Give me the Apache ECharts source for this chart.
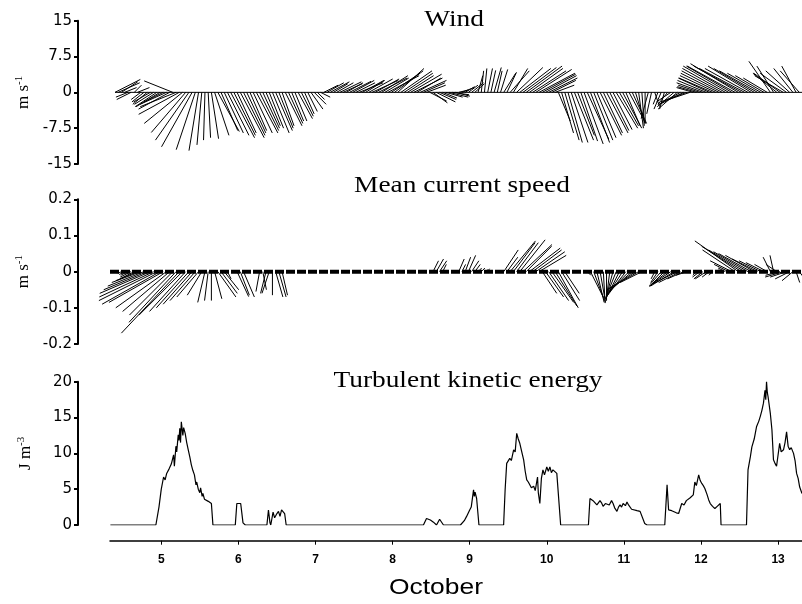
<!DOCTYPE html>
<html><head><meta charset="utf-8">
<script src="https://cdn.jsdelivr.net/npm/echarts@6/dist/echarts.min.js"></script>
<style>html,body{margin:0;padding:0;background:#fff}#c{width:802px;height:604px}</style>
</head><body><div id="c"></div>
<script>
// hourly sampling grid for the stick plots (days of October)
const stickStart = 4.40, stickStep = 1/24;
const dayTicks = [5,6,7,8,9,10,11,12,13];
const xMin = 4.335, xMax = 13.31;

// Wind components (m/s), hourly
const windU = [
 5.3,4.5, 3.4,2.5, -2.5,-3.0, 1.5,2.5, -2.0,-2.5,
 -3.0,-3.5, -4.0,-4.5, -5.0,-4.0, -5.5,-6.5, -6.0,-7.5,
 -8.5,-8.0, -7.2,-7.0, -6.4,-4.0, -2.0,-1.0, -0.3,0.5,
 1.5,3.0, 4.5,3.5, 4.0,4.5, 5.0,4.5, 4.0,5.0,
 4.5,4.0, 3.5,4.0, 4.5,4.0, 3.5,3.0, 3.0,3.5,
 3.5,3.0, 2.5,3.5, 3.0,2.5, 2.5,3.0, 2.5,2.0,
 2.0,2.5, 2.5,1.5, 2.0,3.0, 3.5,4.0, 3.0,3.5,
 4.5,4.0, 3.5,4.5, 4.5,4.0, 5.0,4.5, 4.0,5.0,
 5.5,5.0, 6.0,5.5, 5.0,6.5, 6.0,6.0, 5.5,6.5,
 6.0,5.5, 6.5,6.0, 5.0,5.5, 4.5,4.0, 3.5,3.0,
 4.0,3.5, 3.0,3.5, 4.0,3.5, 3.0,2.0, 2.5,2.0,
 2.0,2.5, 2.0,1.0, 0.5,0.5, 1.0,1.0, 1.5,1.0,
 1.5,2.5, 2.0,4.0, 3.0,5.5, 6.5,7.0, 7.5,7.0,
 7.0,7.5, 7.5,7.0, 6.5,6.0, 5.0,4.0, 2.5,2.5,
 3.0,3.0, 3.5,4.0, 3.5,3.5, 4.0,4.5, 4.0,4.0,
 4.0,4.5, 4.0,4.5, 4.0,4.0, 4.5,4.0, 4.0,3.0,
 3.5,3.0, 2.0,1.0, 0.5,0.0, -1.5,-1.0, 1.0,-1.0,
 -1.5,-1.0, -2.0,-3.0, -3.5,-4.0, -4.5,-5.0, -5.5,-4.5,
 -3.5,-4.0, -4.5,-5.5, -6.0,-6.5, -7.0,-7.5, -8.0,-8.5,
 -9.0,-9.5, -9.5,-10.0, -10.0,-10.0, -9.5,-9.0, -9.0,-8.5,
 -8.0,-7.0, -6.0,-5.0, -4.5,-3.5, -5.0,-5.5, -6.0,-5.5,
 -5.0,-4.0, -3.0,-4.0
];
const windV = [
 2.7,2.0, 2.2,1.0, -1.0,-1.5, 1.5,1.0, -1.5,-2.0,
 -2.5,-2.0, -2.5,-3.0, -3.0,-2.0, -2.5,-3.5, 2.4,-3.0,
 -4.6,-6.5, -8.4,-10.0, -11.4,-12.0, -12.2,-11.0, -10.0,-9.5,
 -9.7,-9.0, -8.2,-8.0, -8.5,-9.0, -9.5,-9.0, -8.5,-9.5,
 -9.0,-8.5, -8.0,-8.5, -8.5,-8.0, -7.5,-7.0, -7.5,-8.5,
 -8.0,-7.5, -7.0,-7.0, -6.5,-6.0, -6.0,-5.5, -5.0,-4.5,
 -4.0,-3.5, -2.5,-1.5, -1.0,1.5, 2.0,2.2, 1.8,2.0,
 2.2,1.8, 2.0,2.3, 2.5,2.0, 2.0,2.5, 2.5,2.8,
 2.5,2.8, 3.0,3.5, 3.0,3.5, 4.0,4.5, 5.0,4.5,
 4.0,3.5, 3.8,3.0, 3.0,2.5, 2.0,1.5, -1.8,-2.2,
 -2.0,-1.5, -1.2,-1.0, -1.0,-0.5, -0.8,0.5, 1.0,1.2,
 1.5,2.0, 1.8,3.5, 4.5,5.0, 5.0,4.6, 5.2,4.5,
 4.8,4.0, 4.2,4.5, 5.0,5.2, 5.0,5.2, 5.5,5.0,
 4.5,4.8, 4.0,3.8, 3.5,3.0, 2.5,1.5, -6.0,-8.5,
 -10.0,-10.5, -10.5,-10.0, -9.0,-10.2, -10.8,-9.8, -10.5,-10.0,
 -9.5,-9.0, -8.5,-8.5, -8.0,-7.8, -7.5,-7.0, -7.5,-7.0,
 -6.5,-6.5, -6.5,-7.5, -7.0,-6.5, -5.5,-4.5, -3.0,-2.5,
 -3.5,-3.5, -2.5,-2.0, -3.0,-3.5, -2.5,-2.5, -2.0,-1.5,
 1.0,1.2, 1.5,2.0, 2.5,3.0, 3.0,3.5, 4.0,4.5,
 5.0,5.5, 5.5,5.5, 6.0,5.5, 5.0,5.0, 5.5,5.0,
 4.5,4.0, 3.5,3.0, 6.5,5.5, 4.0,4.0, 3.5,4.0,
 4.5,5.0, 5.5,4.5
];

// Mean current components (m/s), hourly
const curU = [
 0,-0.005, -0.01,-0.015, -0.02,-0.03, -0.04,-0.06, -0.08,-0.1,
 -0.12,-0.14, -0.15,-0.16, -0.16,-0.15, -0.14,-0.13, -0.12,-0.13,
 -0.16,-0.12, -0.1,-0.09, -0.08,-0.07, -0.06,-0.04, -0.02,-0.01,
 0,0.02, 0.05,0.045, 0.04,0.01, 0,0, 0.032,0.025,
 0.03,0, 0,0, 0,-0.01, 0.01,-0.015, -0.02,0,
 0.02,0.02, 0.015,0,
 0,0,0,0,0,0,0,0,0,0,
 0,0,0,0,0,0,0,0,0,0,
 0,0,0,0,0,0,0,0,0,0,
 0,0,0,0,0,0,0,0,0,0,
 0,0,0,0,
 0,0.015, 0.02,0.02, 0.01,0, 0,0, 0,0.015,
 0.01,0.015, 0.02,0.02, 0.015,0.01, 0.01,0.01, 0.005,0,
 0,0, 0,0.04, 0.03,0.07, 0.06,0.06, 0.07,0.08,
 0.07,0.085, 0.08,0.08, 0.075,0.04, 0.05,0.055, 0.06,0.06,
 0.055,0.05, 0.04,0, 0,0, 0,0, 0,0.01,
 0.035,0.03, 0.02,0.015, 0.005,0, -0.01,-0.02, -0.03,-0.035,
 -0.045,-0.05, -0.06,-0.065, -0.075,-0.08, -0.06,0, 0,0,
 -0.01,-0.02, -0.03,-0.04, -0.05,-0.06, -0.065,-0.07, -0.06,-0.045,
 -0.03,0, 0,-0.01, -0.02,-0.025, -0.03,-0.02, -0.01,0,
 0,-0.01, -0.02,-0.04, -0.06,-0.09, -0.12,-0.11, -0.1,-0.095,
 -0.09,-0.08, -0.07,-0.06, -0.05,-0.035, -0.02,-0.01, -0.03,-0.04,
 -0.05,-0.045, -0.04,-0.03, 0.01,0.015
];
const curV = [
 0,-0.003, -0.005,-0.008, -0.01,-0.015, -0.02,-0.025, -0.03,-0.04,
 -0.05,-0.06, -0.07,-0.08, -0.09,-0.085, -0.1,-0.11, -0.12,-0.14,
 -0.17,-0.12, -0.11,-0.1, -0.09,-0.08, -0.07,-0.065, -0.085,-0.08,
 -0.08,-0.075, -0.07,-0.06, -0.05,-0.02, 0,0, -0.069,-0.065,
 -0.07,0, 0,0, 0,-0.055, -0.05,-0.06, -0.06,-0.065,
 -0.07,-0.07, -0.065,0,
 0,0,0,0,0,0,0,0,0,0,
 0,0,0,0,0,0,0,0,0,0,
 0,0,0,0,0,0,0,0,0,0,
 0,0,0,0,0,0,0,0,0,0,
 0,0,0,0,
 0,0.03, 0.035,0.03, 0.02,0, 0,0, 0,0.035,
 0.02,0.04, 0.045,0.03, 0.02,0.01, 0.01,0.005, 0.008,0,
 0,0, 0,0.06, 0.04,0.085, 0.08,0.08, 0.088,0.075,
 0.07,0.065, 0.06,0.055, 0.045,-0.06, -0.07,-0.08, -0.085,-0.095,
 -0.1,-0.08, -0.06,0, 0,0, 0,0, 0,-0.01,
 -0.07,-0.08, -0.085,-0.085, -0.087,-0.08, -0.08,-0.075, -0.075,-0.07,
 -0.07,-0.065, -0.06,-0.055, -0.05,-0.045, -0.03,0, 0,0,
 -0.02,-0.03, -0.035,-0.04, -0.04,-0.04, -0.04,-0.035, -0.03,-0.02,
 -0.01,0, 0,-0.01, -0.015,-0.02, -0.02,-0.015, -0.01,0,
 0,0.005, 0.01,0.02, 0.03,0.06, 0.085,0.07, 0.06,0.055,
 0.05,0.045, 0.035,0.03, 0.025,0.02, 0.04,0.045, 0.02,-0.01,
 -0.015,-0.015, -0.02,-0.025, -0.03,-0.02
];

// Turbulent kinetic energy (J m-3)
const tkeDay = [4.34,4.93,4.97,5.00,5.03,5.05,5.07,5.10,5.13,5.16,5.17,5.19,5.20,5.22,5.23,5.24,5.25,5.26,5.28,5.29,5.31,5.33,5.35,5.37,5.39,5.41,5.43,5.45,5.46,5.48,5.50,5.51,5.53,5.54,5.56,5.58,5.61,5.65,5.67,
 5.96,5.98,6.03,6.06,6.09,6.37,6.39,6.41,6.42,6.45,6.47,6.50,6.52,6.54,6.56,6.58,6.60,6.62,
 8.40,8.44,8.49,8.53,8.57,8.61,8.66,8.88,8.90,8.93,8.96,8.98,9.00,9.02,9.05,9.06,9.07,9.09,9.11,9.12,
 9.44,9.46,9.48,9.50,9.52,9.54,9.57,9.59,9.61,9.63,9.65,9.68,9.70,9.72,9.74,9.76,9.78,9.80,9.83,9.85,9.88,9.89,9.91,9.93,9.95,9.97,10.00,10.02,10.04,10.06,10.08,10.10,10.13,10.15,10.18,
 10.54,10.56,10.60,10.62,10.65,10.67,10.69,10.71,10.73,10.76,10.78,10.81,10.84,10.86,10.88,10.91,10.93,10.95,10.97,10.99,11.02,11.04,11.06,11.08,11.10,11.12,11.17,11.21,11.27,11.30,
 11.53,11.56,11.58,11.62,11.64,11.68,11.71,11.73,11.75,11.78,11.81,11.83,11.86,11.88,11.90,11.92,11.94,11.97,11.99,12.01,12.03,12.05,12.08,12.10,12.12,12.15,12.18,12.21,12.25,12.26,
 12.59,12.61,12.64,12.66,12.69,12.72,12.75,12.77,12.79,12.81,12.83,12.84,12.85,12.86,12.87,12.90,12.92,12.94,12.96,12.98,13.00,13.02,13.04,13.07,13.09,13.11,13.13,13.15,13.17,13.20,13.22,13.24,13.26,13.28,13.31];
const tkeVal = [0,0,2.5,5.0,6.7,6.3,7.2,7.8,8.5,9.8,8.2,11.0,10.2,12.6,11.8,13.5,11.5,14.4,12.5,13.6,12.8,11.5,10.5,9.5,8.4,7.6,7.0,5.6,6.0,5.0,4.5,5.2,4.0,4.4,3.6,3.8,3.3,3.0,0,
 0,3.0,3.0,0.3,0,0,2.1,0.3,0,1.8,1.0,1.6,1.9,1.2,2.1,2.0,1.6,0,
 0,0.9,0.7,0.4,0,0.8,0,0,0.2,0.6,1.2,1.0,2.1,2.5,4.9,4.0,4.6,3.7,3.8,0,
 0,5.0,8.6,8.8,9.3,9.0,10.5,10.2,12.8,12.0,11.4,10.0,9.1,7.5,6.3,6.0,5.8,5.2,5.4,4.8,6.7,4.5,3.0,6.5,7.7,7.0,8.1,7.5,8.1,7.3,7.7,7.8,7.2,7.2,0,
 0,3.7,3.4,3.6,2.8,3.0,3.4,3.1,2.6,3.0,3.2,2.8,3.4,3.0,2.4,1.9,2.5,2.8,2.5,3.0,2.7,3.2,2.8,2.6,2.2,2.1,2.0,1.9,0.2,0,
 0,5.6,2.1,2.0,1.9,1.7,1.6,2.3,3.0,2.8,3.4,3.2,3.8,4.0,4.2,6.0,5.5,7.0,6.2,5.8,5.5,5.1,4.2,3.5,3.0,2.6,2.3,2.6,3.0,0,
 0,7.7,9.5,10.9,12.0,13.7,14.5,15.2,16.0,17.0,18.8,17.5,20.0,18.5,17.9,15.5,13.3,9.1,8.6,8.2,8.4,11.4,10.2,10.5,11.5,13.0,11.0,10.5,10.8,10.0,9.0,7.2,6.5,5.3,4.4];

const windData = windU.map((u, i) => [stickStart + i * stickStep, u, windV[i]]);
const curData = curU.map((u, i) => [stickStart + i * stickStep, u, curV[i]]);
const tkeData = tkeDay.map((d, i) => [d, tkeVal[i]]);

function renderStick(params, api) {
  const t = api.value(0), u = api.value(1), v = api.value(2);
  const p0 = api.coord([t, 0]);
  const p1 = api.coord([t, v]);
  const unit = Math.abs(api.coord([t, 1])[1] - p0[1]);
  return {
    type: 'line',
    shape: { x1: p0[0], y1: p0[1], x2: p0[0] + u * unit, y2: p1[1] },
    style: { stroke: '#000', lineWidth: 1 }
  };
}

const yCommon = {
  type: 'value', offset: 32,
  axisLine: { show: true, lineStyle: { color: '#000', width: 2 } },
  axisTick: { show: true, length: 4, lineStyle: { color: '#000', width: 2 } },
  splitLine: { show: false },
  axisLabel: { color: '#000', fontFamily: 'DejaVu Sans', fontSize: 15, margin: 6 },
  nameLocation: 'middle', nameRotate: 90, nameGap: 43,
  nameTextStyle: {
    color: '#000', fontFamily: 'Liberation Serif', fontSize: 17,
    rich: {
      a: { fontFamily: 'Liberation Serif', fontSize: 17, color: '#000' },
      s: { fontFamily: 'Liberation Serif', fontSize: 11, color: '#000', verticalAlign: 'top', padding: [0, 0, 8, 0] }
    }
  }
};

function titleText(txt, x, y) {
  return {
    type: 'text', x: x, y: y, scaleX: 1.19,
    style: {
      text: txt, font: '23px "Liberation Serif"', fill: '#000',
      textAlign: 'center', textVerticalAlign: 'middle', align: 'center', verticalAlign: 'middle'
    }
  };
}

const chart = echarts.init(document.getElementById('c'), null, { renderer: 'canvas' });
chart.setOption({
  animation: false,
  backgroundColor: '#fff',
  grid: [
    { left: 110, right: 0, top: 20.7, height: 143.3 },
    { left: 110, right: 0, top: 199.3, height: 144.7 },
    { left: 110, right: 0, top: 381.7, height: 143.3 }
  ],
  xAxis: [
    { type: 'value', gridIndex: 0, min: xMin, max: xMax, show: false },
    { type: 'value', gridIndex: 1, min: xMin, max: xMax, show: false },
    { type: 'value', gridIndex: 2, min: xMin, max: xMax, offset: 15.7,
      axisLine: { show: true, onZero: false, lineStyle: { color: '#000', width: 1.5 } },
      axisTick: { show: true, length: 4, customValues: dayTicks, lineStyle: { color: '#000' } },
      axisLabel: { customValues: dayTicks, color: '#000', fontFamily: 'Liberation Sans', fontWeight: 'bold', fontSize: 12, margin: 13 },
      splitLine: { show: false } }
  ],
  yAxis: [
    Object.assign({}, yCommon, { gridIndex: 0, min: -15, max: 15, interval: 7.5, name: '{a|m s}{s|-1}' }),
    Object.assign({}, yCommon, { gridIndex: 1, min: -0.2, max: 0.2, interval: 0.1, name: '{a|m s}{s|-1}' }),
    Object.assign({}, yCommon, { gridIndex: 2, min: 0, max: 20, interval: 5, name: '{a|J m}{s|-3}' })
  ],
  graphic: [
    titleText('Wind', 454, 20),
    titleText('Mean current speed', 462, 186),
    titleText('Turbulent kinetic energy', 468, 381),
    { type: 'text', x: 436, y: 588, scaleX: 1.2,
      style: { text: 'October', font: '22px "Liberation Sans"', fill: '#000',
        textAlign: 'center', textVerticalAlign: 'middle', align: 'center', verticalAlign: 'middle' } }
  ],
  series: [
    { type: 'line', xAxisIndex: 0, yAxisIndex: 0, data: [[stickStart, 0], [xMax, 0]], symbol: 'none',
      lineStyle: { color: '#000', width: 1 }, silent: true },
    { type: 'custom', xAxisIndex: 0, yAxisIndex: 0, data: windData, renderItem: renderStick,
      encode: { x: 0, y: 2 }, clip: false, silent: true },
    { type: 'line', xAxisIndex: 1, yAxisIndex: 1, data: [[xMin, 0], [xMax, 0]], symbol: 'none',
      lineStyle: { color: '#000', width: 4, type: [9, 2] }, silent: true },
    { type: 'custom', xAxisIndex: 1, yAxisIndex: 1, data: curData, renderItem: renderStick,
      encode: { x: 0, y: 2 }, clip: false, silent: true },
    { type: 'line', xAxisIndex: 2, yAxisIndex: 2, data: tkeData, symbol: 'none',
      lineStyle: { color: '#000', width: 1.2 }, silent: true }
  ]
});
</script>
</body></html>
